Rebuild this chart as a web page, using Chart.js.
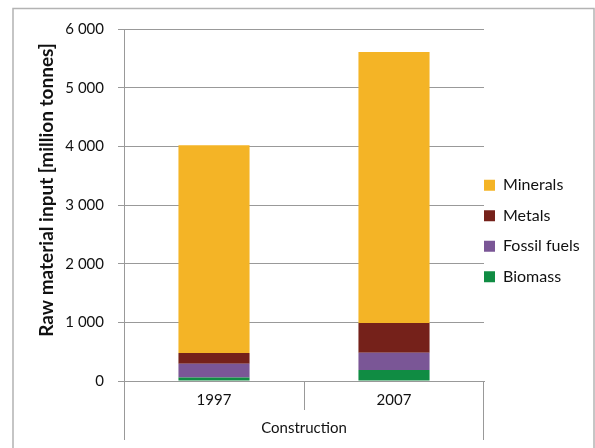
<!DOCTYPE html>
<html>
<head>
<meta charset="utf-8">
<script src="https://cdn.jsdelivr.net/npm/chart.js@4/dist/chart.umd.min.js"></script>
<style>
  html, body { margin: 0; padding: 0; background: #fff; }
  #wrap { width: 595px; height: 448px; position: relative; }
</style>
</head>
<body>
<div id="wrap"><canvas id="rawChart" width="595" height="448"></canvas></div>
<script>
// categories and stacked series (million tonnes)
const years = ['1997', '2007'];
const groupLabel = 'Construction';
const biomass = [58, 187];
const fossilFuels = [238, 296];
const metals = [181, 504];
const minerals = [3543, 4623];
const yMax = 6000;
const yStep = 1000;

const gridGray = '#999999';
const textColor = '#111111';
const font = 'Lato';

// thousands with a space: 6 000
function fmt(v) {
    return String(v).replace(/\B(?=(\d{3})+(?!\d))/g, ' ');
}

// frame, y title, the two-level category separators, legend nudge
const decorations = {
    id: 'decorations',
    afterLayout(chart) {
        const lg = chart.legend;
        if (!lg) return;
        const dx = 484 - (lg.left + lg.options.labels.padding);
        const dy = -7.5;
        lg.left += dx; lg.right += dx;
        lg.top += dy; lg.bottom += dy;
    },
    beforeDraw(chart) {
        const ctx = chart.ctx;
        ctx.save();
        ctx.fillStyle = '#fff';
        ctx.fillRect(0, 0, chart.width, chart.height);
        ctx.restore();
    },
    afterDraw(chart) {
        const ctx = chart.ctx;
        const area = chart.chartArea;
        const x = chart.scales.x;
        ctx.save();

        // outer frame
        ctx.strokeStyle = '#b3b3b3';
        ctx.lineWidth = 1.5;
        ctx.strokeRect(13, 8.5, 581, 470);

        // category separators below the axis
        ctx.strokeStyle = gridGray;
        ctx.lineWidth = 1;
        const bottom = Math.round(area.bottom);
        const l = Math.round(area.left) + 0.5;
        const r = Math.round(area.right) - 0.5;
        const mid = Math.round((x.getPixelForValue(0) + x.getPixelForValue(1)) / 2) + 0.5;
        ctx.beginPath();
        ctx.moveTo(l, bottom); ctx.lineTo(l, 440);
        ctx.moveTo(r, bottom); ctx.lineTo(r, 440);
        ctx.moveTo(mid, bottom); ctx.lineTo(mid, 410);
        ctx.stroke();

        // y axis title
        ctx.translate(47, 190);
        ctx.rotate(-Math.PI / 2);
        ctx.fillStyle = textColor;
        ctx.font = 'bold 19px ' + font;
        ctx.textAlign = 'center';
        ctx.textBaseline = 'middle';
        ctx.fillText('Raw material input [million tonnes]', 0, 0);
        ctx.restore();
    }
};

new Chart(document.getElementById('rawChart').getContext('2d'), {
    type: 'bar',
    data: {
        labels: years,
        datasets: [
            { label: 'Biomass', data: biomass, backgroundColor: '#108c43' },
            { label: 'Fossil fuels', data: fossilFuels, backgroundColor: '#7a5696' },
            { label: 'Metals', data: metals, backgroundColor: '#75211a' },
            { label: 'Minerals', data: minerals, backgroundColor: '#f4b426' }
        ]
    },
    options: {
        responsive: false,
        animation: false,
        devicePixelRatio: 1,
        layout: { padding: { left: 13, top: 29, right: 0, bottom: 0 } },
        datasets: {
            bar: { barPercentage: 0.395, categoryPercentage: 1, borderWidth: 0 }
        },
        plugins: {
            legend: {
                position: 'right',
                reverse: true,
                maxWidth: 111,
                labels: {
                    boxWidth: 11,
                    boxHeight: 11,
                    padding: 14.5,
                    color: textColor,
                    font: { family: font, size: 16 }
                }
            },
            tooltip: { enabled: false }
        },
        scales: {
            x: {
                stacked: true,
                grid: { display: false },
                border: { display: true, color: gridGray },
                ticks: { color: textColor, padding: 2, font: { family: font, size: 15 } },
                title: {
                    display: true,
                    text: groupLabel,
                    color: textColor,
                    font: { family: font, size: 15 },
                    padding: { top: 0, bottom: 11 }
                },
                afterFit(scale) { scale.height = 67; }
            },
            y: {
                stacked: true,
                min: 0,
                max: yMax,
                grid: { color: gridGray, tickLength: 6, tickColor: gridGray },
                border: { display: true, color: gridGray },
                ticks: {
                    stepSize: yStep,
                    padding: 14,
                    color: textColor,
                    font: { family: font, size: 15 },
                    callback: v => fmt(v)
                },
                afterFit(scale) { scale.width = 111; }
            }
        }
    },
    plugins: [decorations]
});
</script>
</body>
</html>
